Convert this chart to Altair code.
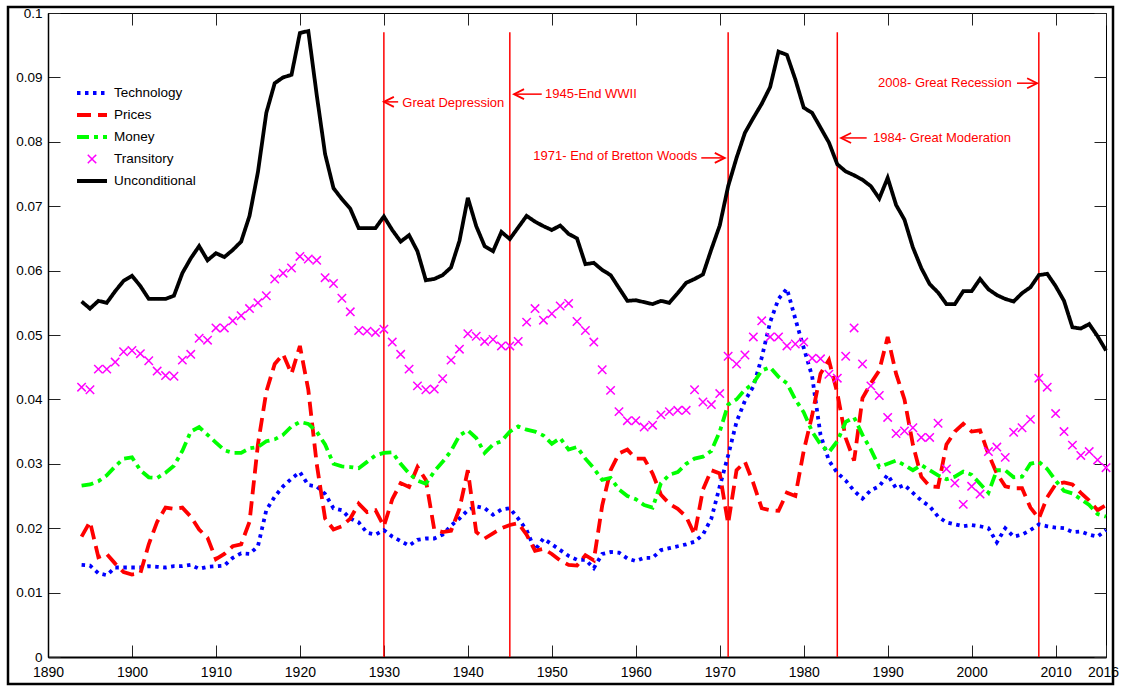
import altair as alt
import pandas as pd

# ---------------- data ----------------
START_YEAR = 1894

TECHNOLOGY = [
    0.0143, 0.0142, 0.0130, 0.0127, 0.0139, 0.0139, 0.0139, 0.0139, 0.0141, 0.0140,
    0.0139, 0.0141, 0.0141, 0.0143, 0.0137, 0.0140, 0.0141, 0.0142, 0.0154, 0.0161,
    0.0160, 0.0172, 0.0228, 0.0249, 0.0265, 0.0277, 0.0287, 0.0267, 0.0265, 0.0253,
    0.0231, 0.0228, 0.0215, 0.0209, 0.0193, 0.0190, 0.0197, 0.0187, 0.0180, 0.0173,
    0.0182, 0.0184, 0.0184, 0.0190, 0.0204, 0.0215, 0.0228, 0.0234, 0.0231, 0.0221,
    0.0229, 0.0231, 0.0215, 0.0197, 0.0166, 0.0184, 0.0175, 0.0166, 0.0157, 0.0151,
    0.0151, 0.0138, 0.0160, 0.0163, 0.0162, 0.0153, 0.0149, 0.0154, 0.0154, 0.0166,
    0.0169, 0.0172, 0.0175, 0.0179, 0.0190, 0.0215, 0.0265, 0.0313, 0.0365, 0.0398,
    0.0420, 0.0465, 0.0520, 0.0556, 0.0572, 0.0525, 0.0480, 0.0436, 0.0345, 0.0305,
    0.0286, 0.0274, 0.0258, 0.0246, 0.0259, 0.0265, 0.0283, 0.0262, 0.0267, 0.0255,
    0.0243, 0.0234, 0.0218, 0.0209, 0.0206, 0.0203, 0.0205, 0.0203, 0.0200, 0.0178,
    0.0200, 0.0187, 0.0190, 0.0197, 0.0206, 0.0203, 0.0201, 0.0200, 0.0194, 0.0195,
    0.0190, 0.0187, 0.0197,
]

PRICES = [
    0.0187, 0.0210, 0.0155, 0.0160, 0.0145, 0.0132, 0.0128, 0.0130, 0.0175, 0.0210,
    0.0232, 0.0230, 0.0232, 0.0218, 0.0198, 0.0185, 0.0152, 0.0160, 0.0172, 0.0175,
    0.0210, 0.0330, 0.0412, 0.0455, 0.0470, 0.0440, 0.0483, 0.0415, 0.0300, 0.0215,
    0.0198, 0.0203, 0.0215, 0.0238, 0.0225, 0.0228, 0.0203, 0.0245, 0.0270, 0.0264,
    0.0295, 0.0275, 0.0198, 0.0194, 0.0196, 0.0230, 0.0290, 0.0194, 0.0184, 0.0192,
    0.0200, 0.0205, 0.0208, 0.0190, 0.0165, 0.0168, 0.0160, 0.0150, 0.0143, 0.0142,
    0.0158, 0.0150, 0.0235, 0.0290, 0.0316, 0.0322, 0.0308, 0.0308, 0.0285, 0.0252,
    0.0238, 0.0230, 0.0218, 0.0190, 0.0260, 0.0290, 0.0285, 0.0207, 0.0290, 0.0303,
    0.0270, 0.0231, 0.0228, 0.0227, 0.0255, 0.0250, 0.0320, 0.0375, 0.0440, 0.0461,
    0.0410, 0.0340, 0.0305, 0.0402, 0.0425, 0.0445, 0.0497, 0.0440, 0.0400, 0.0330,
    0.0280, 0.0265, 0.0264, 0.0330, 0.0350, 0.0362, 0.0350, 0.0352, 0.0315, 0.0285,
    0.0265, 0.0262, 0.0262, 0.0232, 0.0215, 0.0248, 0.0268, 0.0271, 0.0268, 0.0255,
    0.0243, 0.0228, 0.0236,
]

MONEY = [
    0.0266, 0.0268, 0.0273, 0.0282, 0.0296, 0.0308, 0.0310, 0.0290, 0.0279, 0.0278,
    0.0286, 0.0297, 0.0320, 0.0350, 0.0357, 0.0345, 0.0333, 0.0321, 0.0317, 0.0317,
    0.0324, 0.0326, 0.0335, 0.0338, 0.0345, 0.0358, 0.0365, 0.0362, 0.0350, 0.0330,
    0.0300, 0.0296, 0.0295, 0.0293, 0.0303, 0.0313, 0.0317, 0.0318, 0.0300, 0.0285,
    0.0274, 0.0269, 0.0288, 0.0303, 0.0320, 0.0344, 0.0352, 0.0340, 0.0317, 0.0330,
    0.0335, 0.0350, 0.0358, 0.0353, 0.0350, 0.0344, 0.0331, 0.0340, 0.0322, 0.0326,
    0.0308, 0.0293, 0.0275, 0.0278, 0.0260, 0.0250, 0.0245, 0.0236, 0.0232, 0.0270,
    0.0283, 0.0287, 0.0300, 0.0308, 0.0311, 0.0320, 0.0350, 0.0392, 0.0400, 0.0415,
    0.0425, 0.0445, 0.0450, 0.0435, 0.0425, 0.0400, 0.0380, 0.0350, 0.0330, 0.0318,
    0.0335, 0.0365, 0.0372, 0.0345, 0.0322, 0.0295, 0.0300, 0.0305, 0.0298, 0.0290,
    0.0298, 0.0290, 0.0282, 0.0276, 0.0280, 0.0288, 0.0283, 0.0269, 0.0255, 0.0290,
    0.0290, 0.0279, 0.0280, 0.0300, 0.0303, 0.0292, 0.0274, 0.0258, 0.0254, 0.0245,
    0.0236, 0.0222, 0.0218,
]

TRANSITORY = [
    0.0419, 0.0415, 0.0447, 0.0447, 0.0458, 0.0474, 0.0476, 0.0471, 0.0460, 0.0444,
    0.0437, 0.0436, 0.0461, 0.0470, 0.0495, 0.0492, 0.0511, 0.0511, 0.0522, 0.0530,
    0.0541, 0.0550, 0.0561, 0.0587, 0.0596, 0.0604, 0.0622, 0.0618, 0.0616, 0.0589,
    0.0580, 0.0557, 0.0536, 0.0507, 0.0506, 0.0504, 0.0509, 0.0489, 0.0470, 0.0447,
    0.0421, 0.0415, 0.0416, 0.0432, 0.0461, 0.0478, 0.0502, 0.0498, 0.0490, 0.0493,
    0.0483, 0.0483, 0.0490, 0.0520, 0.0541, 0.0523, 0.0533, 0.0545, 0.0549, 0.0521,
    0.0507, 0.0489, 0.0446, 0.0414, 0.0381, 0.0367, 0.0367, 0.0357, 0.0360, 0.0376,
    0.0381, 0.0383, 0.0383, 0.0415, 0.0396, 0.0392, 0.0409, 0.0467, 0.0455, 0.0469,
    0.0497, 0.0522, 0.0497, 0.0497, 0.0483, 0.0486, 0.0489, 0.0464, 0.0463, 0.0439,
    0.0433, 0.0467, 0.0511, 0.0455, 0.0421, 0.0406, 0.0372, 0.0347, 0.0351, 0.0356,
    0.0341, 0.0341, 0.0363, 0.0292, 0.0270, 0.0237, 0.0265, 0.0253, 0.0319, 0.0326,
    0.0310, 0.0349, 0.0356, 0.0369, 0.0433, 0.0419, 0.0378, 0.0350, 0.0329, 0.0313,
    0.0319, 0.0306, 0.0294,
]

UNCONDITIONAL = [
    0.0552, 0.0541, 0.0553, 0.0550, 0.0568, 0.0584, 0.0592, 0.0576, 0.0556, 0.0556,
    0.0556, 0.0561, 0.0596, 0.0619, 0.0638, 0.0616, 0.0627, 0.0621, 0.0632, 0.0645,
    0.0685, 0.0753, 0.0845, 0.0891, 0.0900, 0.0904, 0.0969, 0.0972, 0.0873, 0.0781,
    0.0728, 0.0711, 0.0696, 0.0666, 0.0666, 0.0666, 0.0684, 0.0663, 0.0645, 0.0655,
    0.0630, 0.0585, 0.0587, 0.0593, 0.0605, 0.0646, 0.0713, 0.0669, 0.0638, 0.0630,
    0.0660, 0.0649, 0.0667, 0.0685, 0.0676, 0.0669, 0.0663, 0.0670, 0.0657, 0.0650,
    0.0610, 0.0612, 0.0601, 0.0593, 0.0573, 0.0553, 0.0554, 0.0551, 0.0548, 0.0553,
    0.0550, 0.0565, 0.0581, 0.0587, 0.0594, 0.0633, 0.0670, 0.0731, 0.0775, 0.0814,
    0.0837, 0.0859, 0.0885, 0.0940, 0.0935, 0.0897, 0.0853, 0.0845, 0.0822, 0.0799,
    0.0765, 0.0754, 0.0748, 0.0741, 0.0731, 0.0712, 0.0744, 0.0702, 0.0679, 0.0636,
    0.0604, 0.0579, 0.0566, 0.0548, 0.0548, 0.0568, 0.0568, 0.0587, 0.0571, 0.0562,
    0.0556, 0.0552, 0.0565, 0.0574, 0.0593, 0.0595, 0.0576, 0.0553, 0.0512, 0.0510,
    0.0517, 0.0498, 0.0476,
]

YEARS = list(range(START_YEAR, START_YEAR + len(UNCONDITIONAL)))

SERIES_NAMES = ["Technology", "Prices", "Money", "Transitory", "Unconditional"]

EVENT_YEARS = [1930, 1945, 1971, 1984, 2008]
EVENT_TOP = 0.097

NOTE_TEXT = ["Great Depression", "1945-End WWII", "1971- End of Bretton Woods",
             "1984- Great Moderation", "2008- Great Recession"]
NOTE_X = [1932.2, 1949.2, 1947.8, 1988.25, 1988.85]
NOTE_Y = [0.0861, 0.0874, 0.0778, 0.0806, 0.0891]
ARROW_FROM = [1931.7, 1948.8, 1967.8, 1987.5, 2005.4]
ARROW_TO = [1930.0, 1945.5, 1970.6, 1984.45, 2007.8]
ARROW_Y = [0.0862, 0.0874, 0.0775, 0.0806, 0.0891]
ARROW_DIR = ["left", "left", "right", "left", "right"]

X_MIN, X_MAX = 1890, 2016
Y_MIN, Y_MAX = 0.0, 0.1
X_TICKS = [1890, 1900, 1910, 1920, 1930, 1940, 1950, 1960, 1970, 1980, 1990, 2000, 2010, 2016]
Y_TICKS = [0, 0.01, 0.02, 0.03, 0.04, 0.05, 0.06, 0.07, 0.08, 0.09, 0.1]

# ---------------- styling ----------------
W, H = 1058, 644
TICK_LEN = 12
FONT = "Liberation Sans, Arial, sans-serif"
COLORS = ["#0000ff", "#ff0000", "#00ff00", "#ff00ff", "#000000"]
DASHES = [[3.5, 4.5], [14, 7], [12, 5, 4, 5], [1, 0], [1, 0]]
WIDTHS = [3.8, 3.8, 3.8, 1.5, 3.8]
XPATH = "M-0.28,-0.28L0.28,0.28M-0.28,0.28L0.28,-0.28"
SHAPES = ["stroke", "stroke", "stroke", XPATH, "stroke"]

series_values = {
    "Technology": TECHNOLOGY,
    "Prices": PRICES,
    "Money": MONEY,
    "Transitory": TRANSITORY,
    "Unconditional": UNCONDITIONAL,
}
frames = [pd.DataFrame({"year": YEARS, "value": v, "series": k}) for k, v in series_values.items()]
long_df = pd.concat(frames, ignore_index=True)

x_scale = alt.Scale(domain=[X_MIN, X_MAX], nice=False, zero=False)
y_scale = alt.Scale(domain=[Y_MIN, Y_MAX], nice=False, zero=False)
col_scale = alt.Scale(domain=SERIES_NAMES, range=COLORS)
dash_scale = alt.Scale(domain=SERIES_NAMES, range=DASHES)
width_scale = alt.Scale(type="ordinal", domain=SERIES_NAMES, range=WIDTHS)
shape_scale = alt.Scale(domain=SERIES_NAMES, range=SHAPES)

# Ticks run inward across the whole box (negative length) and are dashed so that
# only a short piece shows at each edge: inward ticks on all four sides.
# Label padding compensates the negative tick length.
X_AX = alt.Axis(
    orient="bottom", values=X_TICKS, format="d", title=None, grid=False,
    ticks=True, tickSize=alt.ExprRef(str(-H)), tickColor="#222222", tickWidth=1,
    tickDash=[TICK_LEN, H - 2 * TICK_LEN, TICK_LEN, 4000],
    domain=True, domainColor="black", domainWidth=2,
    labelFont=FONT, labelColor="black", labelFontSize=14, labelPadding=H + 8,
    labelOverlap=False, labelFlush=False, labelBound=False,
    labelOffset={"condition": {"test": "datum.value == 2016", "value": -3}, "value": 0},
)
Y_AX = alt.Axis(
    orient="left", values=Y_TICKS, format=".2~f", title=None, grid=False,
    ticks=True, tickSize=alt.ExprRef(str(-W)), tickColor="#222222", tickWidth=1,
    tickDash=[TICK_LEN, W - 2 * TICK_LEN, TICK_LEN, 4000],
    domain=True, domainColor="black", domainWidth=1.5,
    labelFont=FONT, labelColor="black", labelFontSize=13.5, labelPadding=W + 6,
    labelOverlap=False, labelFlush=False, labelBound=False,
)


def X(field):
    return alt.X(field, scale=x_scale, axis=X_AX)


def Y(field):
    return alt.Y(field, scale=y_scale, axis=Y_AX)


def series_line(name):
    d = long_df[long_df.series == name]
    return alt.Chart(d).mark_line().encode(
        x=X("year:Q"),
        y=Y("value:Q"),
        color=alt.Color("series:N", scale=col_scale, title=None),
        strokeDash=alt.StrokeDash("series:N", scale=dash_scale, title=None),
        strokeWidth=alt.StrokeWidth("series:N", scale=width_scale, title=None),
    )


transitory_points = alt.Chart(long_df[long_df.series == "Transitory"]).mark_point(
    filled=False, size=900, opacity=1
).encode(
    x=X("year:Q"),
    y=Y("value:Q"),
    color=alt.Color("series:N", scale=col_scale, title=None),
    shape=alt.Shape("series:N", scale=shape_scale, title=None),
    strokeWidth=alt.StrokeWidth("series:N", scale=width_scale, title=None),
)

events_df = pd.DataFrame({"year": EVENT_YEARS, "bottom": [Y_MIN] * len(EVENT_YEARS),
                          "top": [EVENT_TOP] * len(EVENT_YEARS)})
event_rules = alt.Chart(events_df).mark_rule(color="#ff0000", strokeWidth=1.5).encode(
    x=X("year:Q"),
    y=Y("bottom:Q"),
    y2="top:Q",
)

notes_df = pd.DataFrame({"text": NOTE_TEXT, "x": NOTE_X, "y": NOTE_Y})
notes = alt.Chart(notes_df).mark_text(
    align="left", baseline="middle", color="#ff0000", font=FONT, fontSize=13
).encode(
    x=X("x:Q"),
    y=Y("y:Q"),
    text="text:N",
)

arrows_df = pd.DataFrame({"x0": ARROW_FROM, "x1": ARROW_TO, "y": ARROW_Y, "dir": ARROW_DIR})
arrow_shafts = alt.Chart(arrows_df).mark_rule(color="#ff0000", strokeWidth=1.5).encode(
    x=X("x0:Q"),
    x2="x1:Q",
    y=Y("y:Q"),
)
head_left = alt.Chart(arrows_df[arrows_df.dir == "left"]).mark_point(
    shape="M2,-1L0,0L2,1", size=100, filled=False, color="#ff0000", strokeWidth=1.8, opacity=1
).encode(
    x=X("x1:Q"),
    y=Y("y:Q"),
)
head_right = alt.Chart(arrows_df[arrows_df.dir == "right"]).mark_point(
    shape="M-2,-1L0,0L-2,1", size=100, filled=False, color="#ff0000", strokeWidth=1.8, opacity=1
).encode(
    x=X("x1:Q"),
    y=Y("y:Q"),
)

frame = alt.Chart(pd.DataFrame({"k": [0]})).mark_rect(
    fill="transparent", stroke="black", strokeWidth=2.5
).encode(
    x=alt.value(-40), x2=alt.value(1065), y=alt.value(-6), y2=alt.value(671)
)

chart = alt.layer(
    frame,
    event_rules,
    series_line("Technology"),
    series_line("Prices"),
    series_line("Money"),
    transitory_points,
    series_line("Unconditional"),
    arrow_shafts,
    head_left,
    head_right,
    notes,
).properties(
    width=W,
    height=H,
    padding={"left": 48, "top": 13, "right": 15, "bottom": 29},
    autosize=alt.AutoSizeParams(type="none"),
    background="white",
).configure_view(
    stroke="black", strokeWidth=1
).configure_legend(
    orient="none", legendX=27, legendY=70, symbolSize=900, clipHeight=20,
    rowPadding=2, labelFont=FONT, labelFontSize=13.5, labelColor="black",
    labelOffset=5, padding=0,
)

chart.save("out.html", embed_options={"renderer": "svg", "actions": False})
